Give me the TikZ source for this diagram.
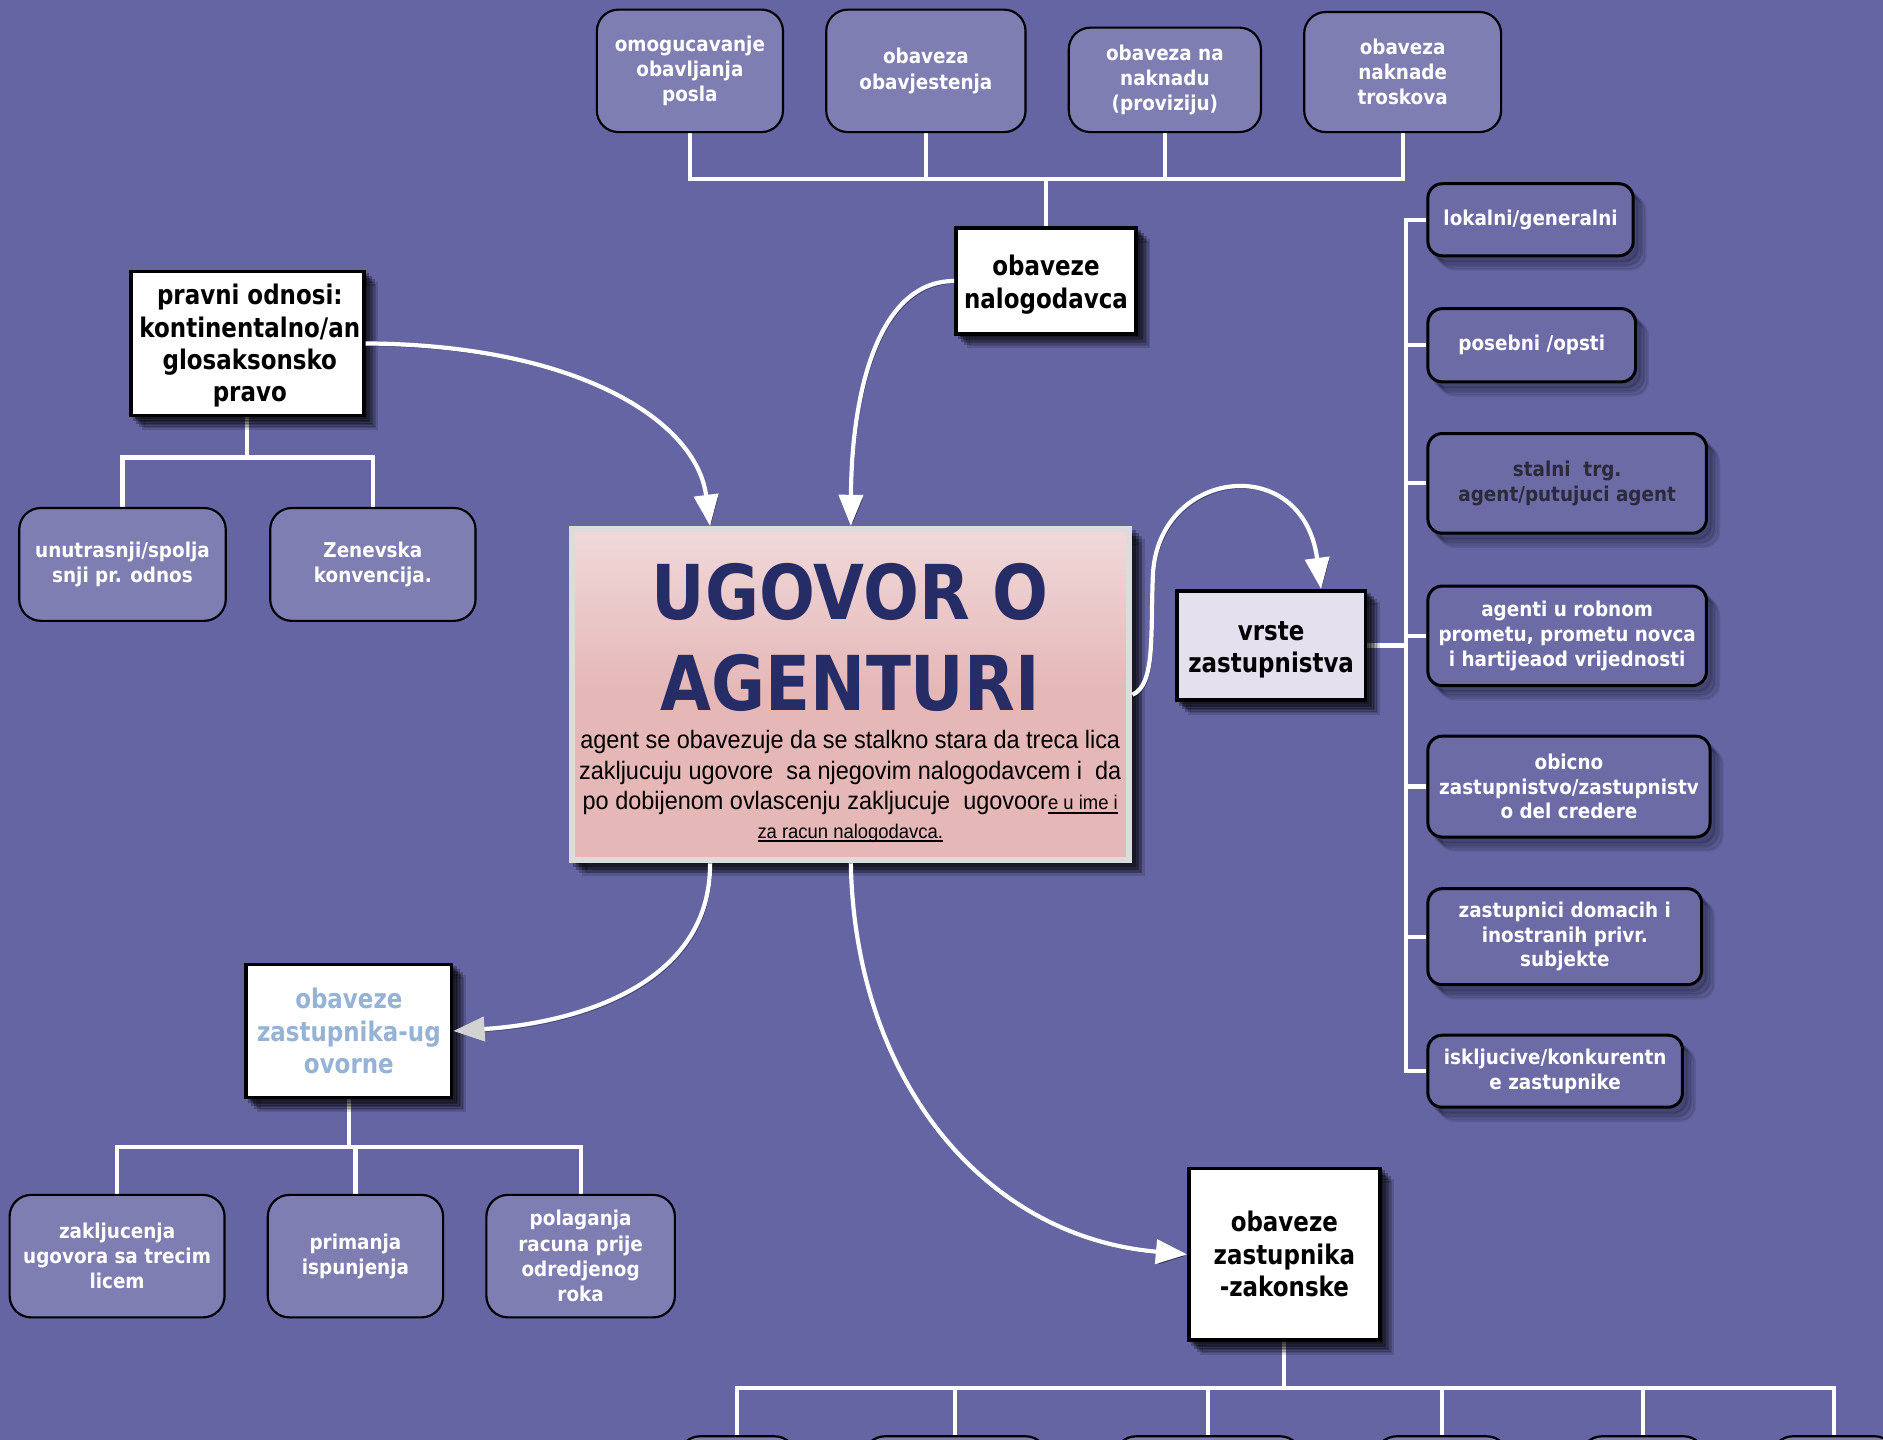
\documentclass[tikz,border=0pt]{standalone}
\usepackage{fontspec}
\usetikzlibrary{arrows.meta,calc}
\newfontfamily\bfam{DejaVu Sans}[FakeStretch=0.85]
\newfontfamily\sfam{DejaVu Sans}[FakeStretch=0.9]
\newfontfamily\tfam{DejaVu Sans}[FakeStretch=0.87]
\newfontfamily\arl{Liberation Sans}[FakeStretch=0.93]
\definecolor{bg}{HTML}{6465A2}
\definecolor{boxA}{HTML}{7F7EB2}
\definecolor{boxB}{HTML}{6C6BA5}
\definecolor{navy}{HTML}{262C66}
\definecolor{lblue}{HTML}{95B3D7}
\definecolor{lav}{HTML}{E5E0EE}
\definecolor{pinkT}{HTML}{E4B8B8}
\definecolor{pinkL}{HTML}{F1DADB}
\definecolor{pinkB}{HTML}{E5B7B7}
\definecolor{dtext}{HTML}{2A2A3A}
\definecolor{cborder}{HTML}{DCDCDC}
\definecolor{shd}{HTML}{14142A}
\pgfdeclareverticalshading{pinkshade}{100bp}{color(0bp)=(pinkB); color(50bp)=(pinkB); color(76bp)=(pinkL); color(100bp)=(pinkT)}
\pgfdeclarelayer{bglayer}
\pgfdeclarelayer{lines}
\pgfsetlayers{bglayer,lines,main}
\newcommand\ulx[1]{\setbox0\hbox{#1}\rlap{\rule[-3pt]{\wd0}{1.4pt}}\box0}
\begin{document}
\begin{tikzpicture}[x=1pt,y=-1pt,
  fA/.style={font=\sfam\bfseries\fontsize{17}{21}\selectfont},
  fR/.style={font=\sfam\bfseries\fontsize{17}{20.5}\selectfont},
  fB/.style={font=\bfam\bfseries\fontsize{22.5}{27}\selectfont},
  softshadow/.style={
     preaction={fill=black, draw=black, opacity=.28, transform canvas={shift={(3pt,-3pt)}}},
     preaction={fill=black, draw=black, opacity=.28, transform canvas={shift={(5.5pt,-5.5pt)}}},
     preaction={fill=black, draw=black, opacity=.22, transform canvas={shift={(8pt,-8pt)}}},
     preaction={fill=black, draw=black, opacity=.14, transform canvas={shift={(10.5pt,-10.5pt)}}}},
  faintshadow/.style={
     preaction={fill=shd, draw=shd, opacity=.18, transform canvas={shift={(4pt,-5pt)}}},
     preaction={fill=shd, draw=shd, opacity=.15, transform canvas={shift={(7pt,-8pt)}}},
     preaction={fill=shd, draw=shd, opacity=.12, transform canvas={shift={(10pt,-11pt)}}}},
  pbox/.style={draw=black, line width=1.8pt, rounded corners=18pt, fill=boxA, text=white, fA, align=center, inner sep=0pt},
  rbox/.style={draw=black, line width=2.5pt, rounded corners=12pt, fill=boxB, text=white, fR, align=center, inner sep=0pt, faintshadow},
  wbox/.style={draw=black, line width=3pt, fill=white, fB, align=center, inner sep=0pt, softshadow},
  tree/.style={draw=white, line width=3.5pt},
  conn/.style={draw=white, line width=3.5pt, -{Triangle[width=20pt,length=26pt]},
     preaction={draw=black, opacity=.45, transform canvas={shift={(1.5pt,-2pt)}}}},
  connG/.style={conn, -{Triangle[width=20pt,length=26pt,color=gray!35]}}
]
\useasboundingbox (0,0) rectangle (1568,1199);
\begin{pgfonlayer}{bglayer}
\fill[bg] (0,0) rectangle (1568,1199);
\end{pgfonlayer}
\clip (0,0) rectangle (1568,1199);

% top boxes
\node[pbox, minimum width=155pt, minimum height=102pt] (t1) at (574.5,59) {omogucavanje\\obavljanja\\posla};
\node[pbox, minimum width=166pt, minimum height=102pt] (t2) at (771,59) {obaveza\\obavjestenja};
\node[pbox, minimum width=160pt, minimum height=87pt] (t3) at (970,66.5) {obaveza na\\naknadu\\(proviziju)};
\node[pbox, minimum width=164pt, minimum height=100pt] (t4) at (1168,60) {obaveza\\naknade\\troskova};
\node[wbox, minimum width=150pt, minimum height=88pt] (nal) at (871,234) {};
\node[fB, align=center, inner sep=0pt] (nalt) at (871,237) {obaveze\\nalogodavca};

% pravni odnosi
\node[wbox, minimum width=194pt, minimum height=120pt] (prav) at (206,286) {};
\begin{scope}
\clip ([shift={(2,2)}]prav.north west) rectangle ([shift={(-2,-2)}]prav.south east);
\node[fB, align=center, inner sep=0pt] (pravt) at (208,288) {pravni odnosi:\\kontinentalno/an\\glosaksonsko\\pravo};
\end{scope}
\node[pbox, minimum width=172pt, minimum height=94pt] (u1) at (102,470) {unutrasnji/spolja\\snji pr. odnos};
\node[pbox, minimum width=171pt, minimum height=94pt] (u2) at (310.5,470) {Zenevska\\konvencija.};

% center
\node[draw=cborder, line width=5pt, shade, shading=pinkshade, minimum width=464pt, minimum height=276pt, inner sep=0pt,
  softshadow] (cen) at (708.5,578.5) {};
\node[text=navy, font=\tfam\bfseries\fontsize{63}{76}\selectfont, align=center, inner sep=0pt] (ttl) at (708,531) {UGOVOR O\\AGENTURI};
\node[anchor=north, font=\arl\fontsize{21}{25.5}\selectfont, align=center, inner sep=0pt] (desc) at (708,608)
 {agent se obavezuje da se stalkno stara da treca lica\\
  zakljucuju ugovore\ \ sa njegovim nalogodavcem i\ \ da\\
  po dobijenom ovlascenju zakljucuje\ \ ugovoor\ulx{\fontsize{16.5}{20}\selectfont e u ime i}\\[-2pt]
  \ulx{\fontsize{16.5}{20}\selectfont za racun nalogodavca.}};

% vrste zastupnistva
\node[wbox, fill=lav, minimum width=157pt, minimum height=91pt] (vr) at (1058.5,537.5) {};
\node[fB, align=center, inner sep=0pt] (vrt) at (1058.5,541) {vrste\\zastupnistva};
\node[rbox, minimum width=171pt, minimum height=60pt] (r1) at (1274.5,183) {lokalni/generalni};
\node[rbox, minimum width=173pt, minimum height=61pt] (r2) at (1275.5,287.5) {posebni /opsti};
\node[rbox, text=dtext, minimum width=232pt, minimum height=83pt] (r3) at (1305,402.5) {stalni\ \ trg.\\agent/putujuci agent};
\node[rbox, minimum width=232pt, minimum height=83pt] (r4) at (1305,529.5) {agenti u robnom\\prometu, prometu novca\\i hartijeaod vrijednosti};
\node[rbox, minimum width=235pt, minimum height=84pt] (r5) at (1306.5,655) {obicno\\zastupnistvo/zastupnistv\\o del credere};
\node[rbox, minimum width=228pt, minimum height=80pt] (r6) at (1303,780) {zastupnici domacih i\\inostranih privr.\\subjekte};
\node[rbox, minimum width=212pt, minimum height=60pt] (r7) at (1295,892) {iskljucive/konkurentn\\e zastupnike};

% ugovorne
\node[wbox, text=lblue, minimum width=171pt, minimum height=111pt] (ugo) at (290.5,858.5) {obaveze\\zastupnika-ug\\ovorne};
\node[pbox, minimum width=179pt, minimum height=102pt] (b1) at (97.5,1046) {zakljucenja\\ugovora sa trecim\\licem};
\node[pbox, minimum width=146pt, minimum height=102pt] (b2) at (296,1046) {primanja\\ispunjenja};
\node[pbox, minimum width=157pt, minimum height=102pt] (b3) at (483.5,1046) {polaganja\\racuna prije\\odredjenog\\roka};

% zakonske
\node[wbox, minimum width=159pt, minimum height=143pt] (zak) at (1069.5,1044.5) {obaveze\\zastupnika\\-zakonske};
\node[pbox, minimum width=98pt, minimum height=100pt] (d1) at (614,1246) {};
\node[pbox, minimum width=153pt, minimum height=100pt] (d2) at (795.5,1246) {};
\node[pbox, minimum width=156pt, minimum height=100pt] (d3) at (1006,1246) {};
\node[pbox, minimum width=111pt, minimum height=100pt] (d4) at (1200.5,1246) {};
\node[pbox, minimum width=104pt, minimum height=100pt] (d5) at (1368,1246) {};
\node[pbox, minimum width=104pt, minimum height=100pt] (d6) at (1527,1246) {};

% tree lines
\begin{pgfonlayer}{lines}
\coordinate (jn) at (871,149);
\draw[tree] (t1.south) |- (jn) -| (t4.south);
\draw[tree] (t2.south) -- (t2.south |- jn);
\draw[tree] (t3.south) -- (t3.south |- jn);
\draw[tree] (jn) -- (nal.north);
\coordinate (jp) at (206,381);
\draw[tree] (prav.south) -- (jp);
\draw[tree] (u1.north) |- (jp) -| (u2.north);
\coordinate (vb) at (1171,537.5);
\draw[tree] (vr.east) -- (vb);
\draw[tree] (r1.west) -| (vb) |- (r7.west);
\draw[tree] (r2.west) -- (r2.west -| vb);
\draw[tree] (r3.west) -- (r3.west -| vb);
\draw[tree] (r4.west) -- (r4.west -| vb);
\draw[tree] (r5.west) -- (r5.west -| vb);
\draw[tree] (r6.west) -- (r6.west -| vb);
\coordinate (jg) at (290.5,955);
\draw[tree] (ugo.south) -- (jg);
\draw[tree] (b1.north) |- (jg) -| (b3.north);
\draw[tree] (b2.north) -- (b2.north |- jg);
\coordinate (jz) at (1069.5,1156);
\draw[tree] (zak.south) -- (jz);
\draw[tree] (d1.north) |- (jz) -| (d6.north);
\draw[tree] (d2.north) -- (d2.north |- jz);
\draw[tree] (d3.north) -- (d3.north |- jz);
\draw[tree] (d4.north) -- (d4.north |- jz);
\draw[tree] (d5.north) -- (d5.north |- jz);
\end{pgfonlayer}

% connectors
\draw[conn] (prav.east) .. controls (480,287) and (580,350) .. ($(cen.north west)!0.25!(cen.north east)$);
\draw[conn] (nal.west) .. controls (730,234) and (709,330) .. (cen.north);
\draw[conn] (cen.east) .. controls (962,570) and (958,530) .. (960,480) .. controls (963,390) and (1085,375) .. ($(vr.north west)!0.76!(vr.north east)$);
\draw[connG] ($(cen.south west)!0.25!(cen.south east)$) .. controls (592,820) and (480,852) .. (ugo.east);
\draw[conn] (cen.south) .. controls (712,900) and (820,1030) .. (zak.west);
\end{tikzpicture}
\end{document}
